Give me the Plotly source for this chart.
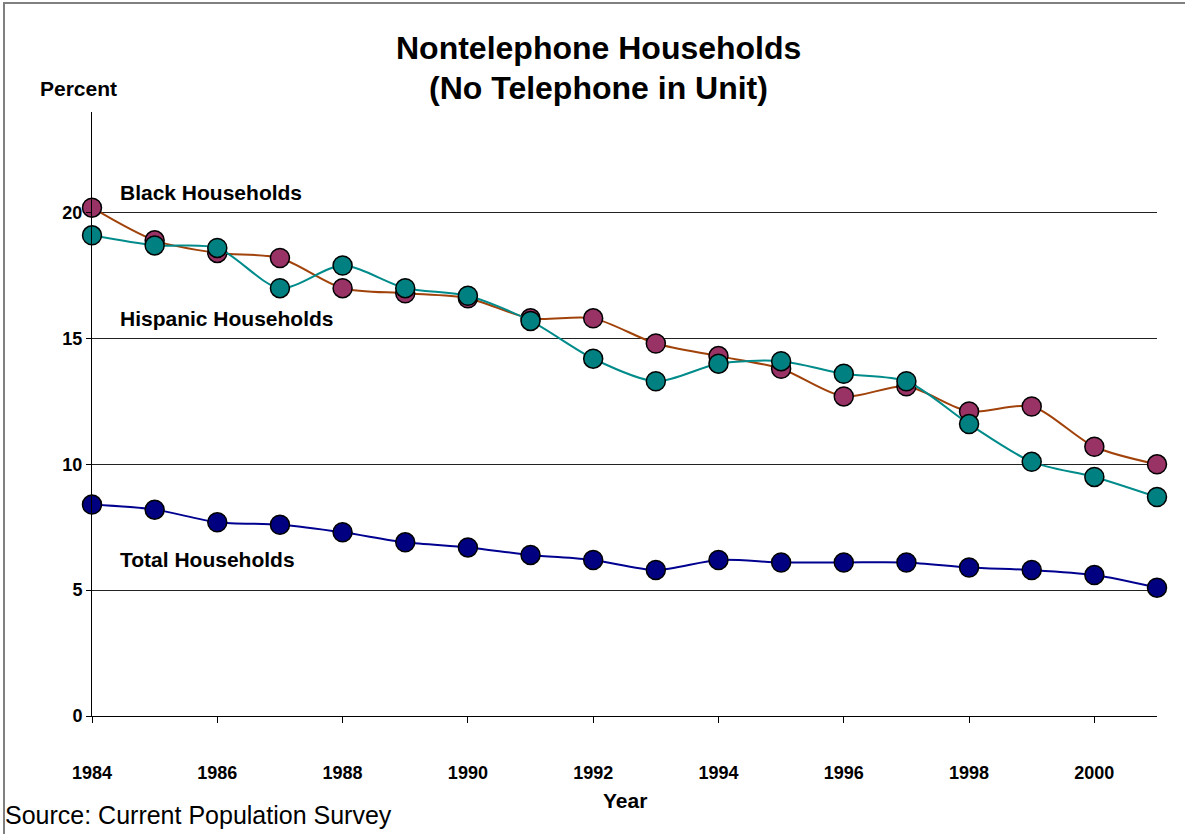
import plotly.graph_objects as go

years = list(range(1984, 2002))
black = [20.2, 18.9, 18.4, 18.2, 17.0, 16.8, 16.6, 15.8, 15.8, 14.8, 14.3, 13.8, 12.7, 13.1, 12.1, 12.3, 10.7, 10.0]
hispanic = [19.1, 18.7, 18.6, 17.0, 17.9, 17.0, 16.7, 15.7, 14.2, 13.3, 14.0, 14.1, 13.6, 13.3, 11.6, 10.1, 9.5, 8.7]
total = [8.4, 8.2, 7.7, 7.6, 7.3, 6.9, 6.7, 6.4, 6.2, 5.8, 6.2, 6.1, 6.1, 6.1, 5.9, 5.8, 5.6, 5.1]
x_ticks = list(range(1984, 2001, 2))
y_ticks = [0, 5, 10, 15, 20]

W, H = 1185, 834
L, R, T, B = 92, 1157, 112, 716
FONT = "Liberation Sans, Arial, sans-serif"


def px(x):
    return (x - L) / (R - L)


def py(y):
    return (B - y) / (B - T)


fig = go.Figure()

series = [
    ("Black Households", black, "#A0420A", "#993366"),
    ("Hispanic Households", hispanic, "#008B8B", "#008080"),
    ("Total Households", total, "#000090", "#000080"),
]
for name, vals, lc, mc in series:
    fig.add_trace(go.Scatter(
        x=years, y=vals, name=name, mode="lines+markers",
        line=dict(color=lc, width=2, shape="spline", smoothing=0.8),
        marker=dict(size=19, color=mc, line=dict(color="black", width=1.5)),
        cliponaxis=False,
    ))

fig.update_layout(
    width=W, height=H,
    margin=dict(l=L, r=W - R, t=T, b=H - B),
    paper_bgcolor="white", plot_bgcolor="white",
    showlegend=False,
    font=dict(family=FONT, color="black"),
    xaxis=dict(
        range=[1984, 2001], tickvals=x_ticks,
        ticktext=[f"<b>{v}</b>" for v in x_ticks],
        tickfont=dict(size=18, family=FONT, color="black"),
        ticks="outside", ticklen=6, tickcolor="black", tickwidth=1,
        showline=True, linecolor="black", linewidth=1,
        showgrid=False, zeroline=False,
        ticklabelstandoff=34,
    ),
    yaxis=dict(
        range=[0, 24], tickvals=y_ticks,
        ticktext=[f"<b>{v}</b>" for v in y_ticks],
        tickfont=dict(size=18, family=FONT, color="black"),
        ticks="outside", ticklen=5, tickcolor="black", tickwidth=1,
        showline=True, linecolor="black", linewidth=1,
        showgrid=True, gridcolor="#222222", gridwidth=1,
        zeroline=False,
    ),
)

annots = [
    ("<b>Nontelephone Households</b>", 598, 48, "center", 32),
    ("<b>(No Telephone in Unit)</b>", 598, 88, "center", 32),
    ("<b>Percent</b>", 38, 89, "left", 21),
    ("<b>Black Households</b>", 118, 192, "left", 21),
    ("<b>Hispanic Households</b>", 118, 318, "left", 21),
    ("<b>Total Households</b>", 118, 559, "left", 21),
    ("<b>Year</b>", 625, 800, "center", 21),
    ("Source: Current Population Survey", 3, 815, "left", 25),
]
for text, x, y, xa, size in annots:
    fig.add_annotation(
        text=text, xref="paper", yref="paper", x=px(x), y=py(y),
        xanchor=xa, yanchor="middle", showarrow=False,
        font=dict(size=size, family=FONT, color="black"),
    )

fig.add_shape(
    type="rect", xref="paper", yref="paper",
    x0=px(4), x1=px(1192), y0=py(3), y1=py(842),
    line=dict(color="#808080", width=2), fillcolor="rgba(0,0,0,0)",
    layer="below",
)

fig.write_html("out.html")
